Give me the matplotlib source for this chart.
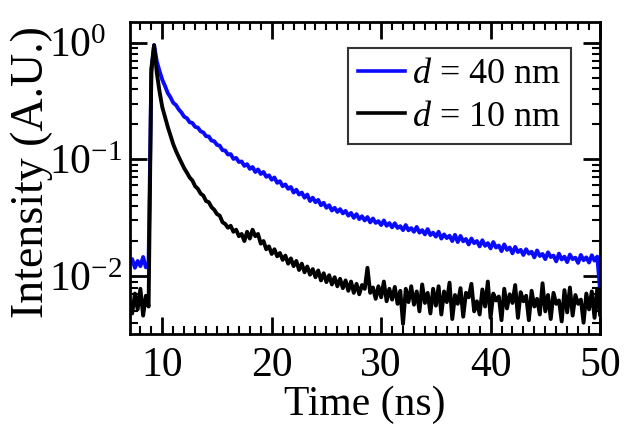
import numpy as np
import matplotlib
matplotlib.use("Agg")
import matplotlib.pyplot as plt
from matplotlib.ticker import MultipleLocator, LogLocator, NullFormatter

plt.rcParams['font.family'] = ['Liberation Serif', 'DejaVu Serif']
plt.rcParams['mathtext.fontset'] = 'custom'
plt.rcParams['mathtext.rm'] = 'Liberation Serif'
plt.rcParams['mathtext.it'] = 'Liberation Serif:italic'
plt.rcParams['mathtext.bf'] = 'Liberation Serif:bold'

# time axis (ns), 0.25 ns bins from 7.0 to 50.0
time_ns = np.arange(7.0, 50.001, 0.25)

# d = 40 nm decay (normalized intensity)
intensity_40nm = [
    0.0128, 0.0140, 0.0118, 0.0135, 0.0122, 0.0146, 0.0119, 0.0131,   # 7.0-8.75
    0.55, 0.95, 0.69, 0.57, 0.48, 0.425, 0.37, 0.34,                  # 9.0-10.75
    0.305, 0.292, 0.268, 0.252, 0.232, 0.225, 0.208, 0.205,           # 11-12.75
    0.190, 0.187, 0.174, 0.170, 0.158, 0.157, 0.145, 0.143,           # 13-14.75
    0.133, 0.131, 0.120, 0.119, 0.110, 0.111, 0.101, 0.103,           # 15-16.75
    0.095, 0.096, 0.088, 0.091, 0.083, 0.086, 0.078, 0.082,           # 17-18.75
    0.075, 0.078, 0.071, 0.073, 0.067, 0.070, 0.063, 0.065,           # 19-20.75
    0.059, 0.061, 0.056, 0.058, 0.052, 0.055, 0.050, 0.052,           # 21-22.75
    0.047, 0.050, 0.044, 0.047, 0.043, 0.045, 0.0405, 0.0425,         # 23-24.75
    0.0385, 0.0405, 0.0365, 0.0385, 0.0355, 0.0375, 0.0345, 0.0362,   # 25-26.75
    0.0330, 0.0348, 0.0316, 0.0340, 0.0308, 0.0326, 0.0300, 0.0321,   # 27-28.75
    0.0289, 0.0312, 0.0286, 0.0296, 0.0274, 0.0300, 0.0270, 0.0285,   # 29-30.75
    0.0262, 0.0284, 0.0259, 0.0268, 0.0248, 0.0274, 0.0247, 0.0258,   # 31-32.75
    0.0240, 0.0264, 0.0236, 0.0248, 0.0228, 0.0253, 0.0225, 0.0236,   # 33-34.75
    0.0218, 0.0240, 0.0210, 0.0228, 0.0212, 0.0222, 0.0200, 0.0226,   # 35-36.75
    0.0196, 0.0221, 0.0199, 0.0208, 0.0187, 0.0210, 0.0192, 0.0200,   # 37-38.75
    0.0180, 0.0203, 0.0182, 0.0192, 0.0173, 0.0196, 0.0176, 0.0183,   # 39-40.75
    0.0164, 0.0187, 0.0168, 0.0176, 0.0157, 0.0178, 0.0161, 0.0168,   # 41-42.75
    0.0152, 0.0170, 0.0156, 0.0162, 0.0145, 0.0166, 0.0149, 0.0155,   # 43-44.75
    0.0140, 0.0160, 0.0146, 0.0150, 0.0134, 0.0156, 0.0139, 0.0147,   # 45-46.75
    0.0132, 0.0153, 0.0140, 0.0144, 0.0130, 0.0152, 0.0137, 0.0145,   # 47-48.75
    0.0131, 0.0151, 0.0136, 0.0147, 0.0077,                           # 49-50.0
]

# d = 10 nm decay (normalized intensity)
intensity_10nm = [
    0.0062, 0.0048, 0.0071, 0.0052, 0.0078, 0.0046, 0.0068, 0.0055,   # 7.0-8.75
    0.60, 0.95, 0.55, 0.38, 0.28, 0.23, 0.19, 0.16,                   # 9.0-10.75
    0.135, 0.118, 0.105, 0.094, 0.084, 0.077, 0.070, 0.066,           # 11-12.75
    0.059, 0.056, 0.051, 0.049, 0.044, 0.043, 0.039, 0.037,           # 13-14.75
    0.034, 0.033, 0.029, 0.028, 0.026, 0.027, 0.024, 0.025,           # 15-16.75
    0.022, 0.023, 0.020, 0.024, 0.021, 0.025, 0.022, 0.023,           # 17-18.75
    0.019, 0.020, 0.017, 0.018, 0.0155, 0.017, 0.0148, 0.0158,        # 19-20.75
    0.0138, 0.0150, 0.0128, 0.0142, 0.0122, 0.0135, 0.0113, 0.0128,   # 21-22.75
    0.0108, 0.0121, 0.0103, 0.0115, 0.0098, 0.0112, 0.0092, 0.0106,   # 23-24.75
    0.0089, 0.0102, 0.0085, 0.0098, 0.0082, 0.0095, 0.0079, 0.0092,   # 25-26.75
    0.0075, 0.0090, 0.0072, 0.0086, 0.0070, 0.0084, 0.0078, 0.0118,   # 27-28.75
    0.0072, 0.0080, 0.0064, 0.0082, 0.0066, 0.0090, 0.0061, 0.0078,   # 29-30.75
    0.0063, 0.0081, 0.0058, 0.0075, 0.0039, 0.0078, 0.0060, 0.0082,   # 31-32.75
    0.0057, 0.0074, 0.0050, 0.0085, 0.0059, 0.0072, 0.0048, 0.0078,   # 33-34.75
    0.0056, 0.0082, 0.0047, 0.0074, 0.0060, 0.0088, 0.0043, 0.0069,   # 35-36.75
    0.0058, 0.0079, 0.0045, 0.0072, 0.0066, 0.0086, 0.0050, 0.0061,   # 37-38.75
    0.0047, 0.0077, 0.0055, 0.0090, 0.0044, 0.0071, 0.0062, 0.0067,   # 39-40.75
    0.0042, 0.0078, 0.0053, 0.0070, 0.0059, 0.0084, 0.0044, 0.0073,   # 41-42.75
    0.0061, 0.0068, 0.0042, 0.0075, 0.0055, 0.0064, 0.0047, 0.0087,   # 43-44.75
    0.0050, 0.0069, 0.0043, 0.0072, 0.0058, 0.0062, 0.0041, 0.0076,   # 45-46.75
    0.0049, 0.0080, 0.0046, 0.0069, 0.0058, 0.0063, 0.0040, 0.0071,   # 47-48.75
    0.0052, 0.0074, 0.0044, 0.0078, 0.0047,                           # 49-50.0
]

labels = [r'$d$ = 40 nm', r'$d$ = 10 nm']
colors = ['#0a0aff', '#000000']
x_ticks = [10, 20, 30, 40, 50]

fig = plt.figure(figsize=(6.26, 4.26), dpi=100)
ax = fig.add_axes([130/626, 1 - 334/426, 470/626, 312/426])

ax.plot(time_ns, intensity_40nm, color=colors[0], lw=2.8, label=labels[0])
ax.plot(time_ns, intensity_10nm, color=colors[1], lw=2.8, label=labels[1])

ax.set_yscale('log')
ax.set_xlim(7.05, 50)
ax.set_ylim(0.0032, 1.5)
ax.set_xticks(x_ticks)
ax.xaxis.set_minor_locator(MultipleLocator(1))
ax.yaxis.set_minor_locator(LogLocator(base=10, subs=np.arange(2, 10), numticks=20))
ax.yaxis.set_minor_formatter(NullFormatter())

for s in ax.spines.values():
    s.set_linewidth(2.0)

ax.tick_params(which='both', direction='in', top=True, right=True, labelsize=30)
ax.tick_params(which='major', length=12, width=2.0)
ax.tick_params(which='minor', length=6, width=1.5)
ax.tick_params(axis='x', pad=9)
ax.tick_params(axis='y', pad=58)
plt.setp(ax.get_yticklabels(), ha='left')

ax.set_xlabel('Time (ns)', fontsize=30, labelpad=0)
fig.text(32/626, 1 - 172/426, 'Intensity (A.U.)', rotation=90,
         ha='center', va='center', fontsize=33)

leg = ax.legend(loc='upper right', bbox_to_anchor=(571/626, 1 - 48/426),
                bbox_transform=fig.transFigure, borderaxespad=0,
                fontsize=26, frameon=True, fancybox=False, edgecolor='black',
                handlelength=1.3, handletextpad=0.18, borderpad=0.28,
                labelspacing=0.25)
leg.get_frame().set_linewidth(1.5)
for line in leg.get_lines():
    line.set_linewidth(2.6)

fig.savefig('out.png', dpi=100)
